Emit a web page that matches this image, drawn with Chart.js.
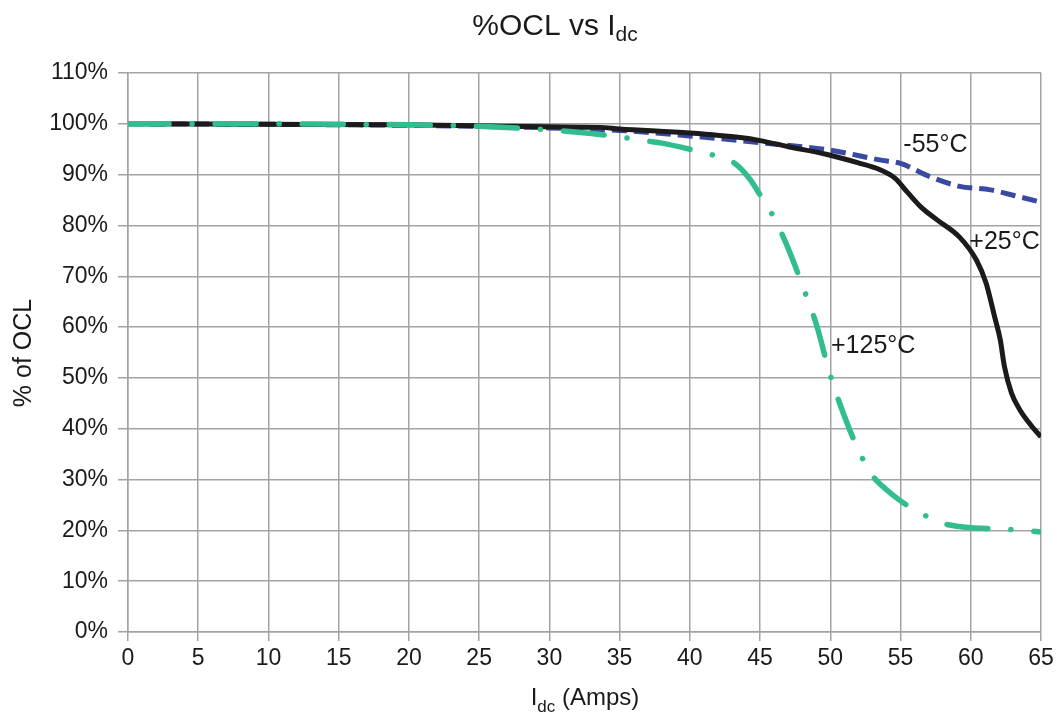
<!DOCTYPE html>
<html>
<head>
<meta charset="utf-8">
<script src="https://cdn.jsdelivr.net/npm/chart.js@4"></script>
<style>
html,body{margin:0;padding:0;background:#fff;}
#wrap{width:1059px;height:716px;}
</style>
</head>
<body>
<div id="wrap"><canvas id="c" width="1059" height="716"></canvas></div>
<script>
// ---- data ----
const hotX  = [0,5,10,15,20,25,30,33,35,37,38,40,41,42,43,43.7,44.3,45,46,47,48,49,50,51,52,53,54,55,56,57,58,59,60,62,65];
const hotY  = [100,100,100,99.9,99.8,99.5,98.8,98.1,97.4,96.6,96.2,95.0,94.3,93.6,92.6,91,89,86,81.5,75.5,68.3,60.6,50.5,42.5,35.8,30.8,28,25.8,24,22.6,21.4,20.8,20.5,20.3,19.7];
const roomX = [0,10,20,25,30,33.6,35,40,43.6,45,47,49.7,52,53.5,54.6,55.5,56.5,57.6,59.2,60.4,61.1,61.7,62.1,62.4,62.9,63.5,64.4,65];
const roomY = [100,99.9,99.8,99.6,99.4,99.3,99.0,98.2,97.3,96.7,95.5,94.0,92.3,91.0,89.3,86.5,83.5,81.1,77.7,73.2,68.6,62,57.5,52.2,47,43.7,40.3,38.4];
const coldX = [0,10,20,25,30,35,40,45,50,53.5,55,57.1,59.2,61.4,63.5,65];
const coldY = [100,99.9,99.7,99.5,99.2,98.7,97.6,96.3,94.8,92.9,92.2,89.6,87.7,87.0,85.6,84.6];
const seriesNames = ['+125°C','+25°C','-55°C'];
const labelX = [50.05, 59.9, 55.2];
const labelY = [56.3, 76.7, 95.8];
const xTicksMin = 0, xTicksMax = 65, xStep = 5;
const yTicksMin = 0, yTicksMax = 110, yStep = 10;

const pts = (xs, ys) => xs.map((x, i) => ({x: x, y: ys[i]}));
const FONT = '"Liberation Sans", Arial, Helvetica, sans-serif';
const GRID = '#a3a3a5';

const textPlugin = {
  id: 'texts',
  afterDraw(chart) {
    const ctx = chart.ctx;
    const xs = chart.scales.x, ys = chart.scales.y;
    ctx.save();
    ctx.fillStyle = '#1a1a1a';
    // series labels
    ctx.textBaseline = 'middle';
    ctx.font = '25px ' + FONT;
    ctx.textAlign = 'left';
    seriesNames.forEach((n, i) => {
      ctx.fillText(n, xs.getPixelForValue(labelX[i]), ys.getPixelForValue(labelY[i]));
    });
    // helper for subscript text (alphabetic baseline)
    function subText(main, sub, rest, cx, base, size, subSize, subDrop) {
      ctx.textBaseline = 'alphabetic';
      ctx.font = size + 'px ' + FONT;
      const w1 = ctx.measureText(main).width;
      const w3 = ctx.measureText(rest).width;
      ctx.font = subSize + 'px ' + FONT;
      const w2 = ctx.measureText(sub).width;
      let x = cx - (w1 + w2 + w3) / 2;
      ctx.textAlign = 'left';
      ctx.font = size + 'px ' + FONT;
      ctx.fillText(main, x, base);
      x += w1;
      ctx.font = subSize + 'px ' + FONT;
      ctx.fillText(sub, x, base + subDrop);
      x += w2;
      ctx.font = size + 'px ' + FONT;
      ctx.fillText(rest, x, base);
    }
    subText('%OCL vs I', 'dc', '', 555, 35, 30, 21, 6);
    subText('I', 'dc', ' (Amps)', 585, 705, 24, 17, 7);
    // y title
    ctx.textBaseline = 'middle';
    ctx.translate(24, 353);
    ctx.rotate(-Math.PI / 2);
    ctx.textAlign = 'center';
    ctx.font = '25px ' + FONT;
    ctx.fillText('% of OCL', 0, 0);
    ctx.restore();
  }
};

new Chart(document.getElementById('c'), {
  type: 'line',
  data: {
    datasets: [
      {label: seriesNames[0], data: pts(hotX, hotY), borderColor: '#31bd8f', borderWidth: 5.5,
       borderDash: [41, 23, 0.1, 23], borderCapStyle: 'round', pointRadius: 0, cubicInterpolationMode: 'monotone'},
      {label: seriesNames[1], data: pts(roomX, roomY), borderColor: '#1c1a1a', borderWidth: 5,
       pointRadius: 0, cubicInterpolationMode: 'monotone'},
      {label: seriesNames[2], data: pts(coldX, coldY), borderColor: '#3a49a2', borderWidth: 5,
       borderDash: [15, 7], pointRadius: 0, cubicInterpolationMode: 'monotone'}
    ]
  },
  options: {
    responsive: false,
    animation: false,
    devicePixelRatio: 1,
    layout: {padding: {left: 0, right: 18, top: 73, bottom: 0}},
    plugins: {legend: {display: false}, title: {display: false}, tooltip: {enabled: false}},
    scales: {
      x: {
        type: 'linear', min: xTicksMin, max: xTicksMax,
        afterFit(s) { s.height = 84; },
        ticks: {stepSize: xStep, color: '#1a1a1a', font: {family: FONT, size: 23}, padding: 4, maxRotation: 0, autoSkip: false},
        grid: {color: GRID, lineWidth: 1.5, tickLength: 9, tickColor: GRID},
        border: {color: GRID, width: 1.5}
      },
      y: {
        type: 'linear', min: yTicksMin, max: yTicksMax,
        afterFit(s) { s.width = 128; },
        ticks: {stepSize: yStep, color: '#1a1a1a', font: {family: FONT, size: 23}, padding: 10,
                callback: v => v + '%'},
        grid: {color: GRID, lineWidth: 1.5, tickLength: 10, tickColor: GRID},
        border: {color: GRID, width: 1.5}
      }
    }
  },
  plugins: [textPlugin]
});
</script>
</body>
</html>
